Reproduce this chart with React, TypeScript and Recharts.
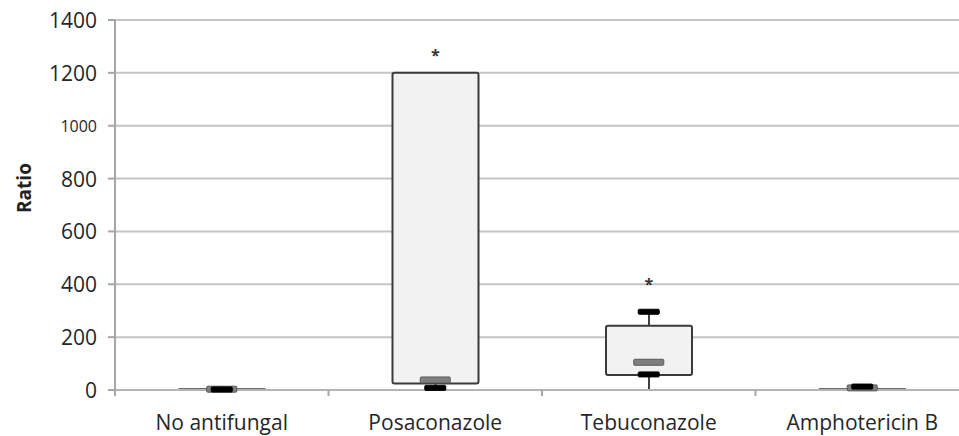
import { ComposedChart, Bar, Scatter, XAxis, YAxis, CartesianGrid } from "recharts";

const CATEGORIES = ["No antifungal", "Posaconazole", "Tebuconazole", "Amphotericin B"];
const WHISKER_LOW = [0, 0, 0, 0];
const WHISKER_HIGH = [0, 1200, 296, 0];
const Q1 = [0, 25, 57, 0];
const Q3 = [3, 1200, 243, 3];
const MEDIAN = [3, 38, 105, 8];
const CAP_LOW = [2, 8, 59, 13];
const CAP_HIGH = [null, null, 296, null];
const STAR = [null, 1282, 416, null];
const Y_TICKS = [0, 200, 400, 600, 800, 1000, 1200, 1400];

const data = CATEGORIES.map((name, i) => ({
  name,
  whisker: [WHISKER_LOW[i], WHISKER_HIGH[i]],
  box: [Q1[i], Q3[i]],
  median: MEDIAN[i],
  capLow: CAP_LOW[i],
  capHigh: CAP_HIGH[i],
  star: STAR[i],
}));

const W = 980;
const H = 436;
const MARGIN = { top: 20, right: 11, left: 0, bottom: 0 };
const Y_W = 115;
const BAND = (W - MARGIN.right - Y_W) / CATEGORIES.length;
const FONT = "'Open Sans', sans-serif";

const YTick = (props: any) => {
  const { x, y, payload } = props;
  const small = payload.value === 1000;
  return (
    <text x={x} y={y} dy={small ? 6 : 8} textAnchor="end" fontFamily={FONT} fontSize={small ? 16 : 21} fill="#262626">
      {payload.value}
    </text>
  );
};

const XTick = (props: any) => {
  const { x, y, payload } = props;
  return (
    <g>
      <line x1={x - BAND / 2} x2={x - BAND / 2} y1={y} y2={y + 6} stroke="#a6a6a6" strokeWidth={2} />
      <text x={x} y={y + 40} textAnchor="middle" fontFamily={FONT} fontSize={21} fill="#262626">
        {payload.value}
      </text>
    </g>
  );
};

const barMark = (key: string, w: number, h: number, fill: string, stroke: string) => (props: any) => {
  const { cx, cy, payload } = props;
  if (payload == null || payload[key] == null || !isFinite(cx) || !isFinite(cy)) return <g />;
  return <rect x={cx - w / 2} y={cy - h / 2} width={w} height={h} rx={1} fill={fill} stroke={stroke} strokeWidth={1} />;
};

const starMark = (props: any) => {
  const { cx, cy, payload } = props;
  if (payload == null || payload.star == null || !isFinite(cy)) return <g />;
  return (
    <text x={cx} y={cy + 10} textAnchor="middle" fontFamily={FONT} fontSize={16} fontWeight={700} fill="#333">
      *
    </text>
  );
};

export default function App() {
  return (
    <div style={{ position: "fixed", left: 0, top: 0, width: 959, height: 436, overflow: "hidden", background: "#fff" }}>
      <ComposedChart width={W} height={H} data={data} margin={MARGIN}>
        <CartesianGrid horizontal vertical={false} stroke="#c4c4c4" strokeWidth={2} />
        <XAxis
          dataKey="name"
          height={46}
          tickLine={false}
          tickSize={0}
          tickMargin={0}
          axisLine={{ stroke: "#b5b5b5", strokeWidth: 2 }}
          tick={<XTick />}
          interval={0}
        />
        <XAxis xAxisId="w" dataKey="name" hide />
        <YAxis
          width={Y_W}
          domain={[0, 1400]}
          ticks={Y_TICKS}
          interval={0}
          tickSize={7}
          tickMargin={11}
          axisLine={{ stroke: "#a6a6a6", strokeWidth: 2 }}
          tickLine={{ stroke: "#a6a6a6", strokeWidth: 2 }}
          tick={<YTick />}
          label={{
            value: "Ratio",
            angle: -90,
            position: "center",
            dx: -33,
            dy: -17,
            style: { fontFamily: FONT, fontSize: 19, fontWeight: 700, fill: "#222", textAnchor: "middle" },
          }}
        />
        <Bar xAxisId="w" dataKey="whisker" barSize={2} fill="#404040" isAnimationActive={false} />
        <Bar dataKey="box" barSize={86} fill="#f2f2f2" stroke="#3a3a3a" strokeWidth={2} radius={2} isAnimationActive={false} />
        <Scatter dataKey="median" shape={barMark("median", 30, 6, "#7f7f7f", "#5a5a5a")} isAnimationActive={false} />
        <Scatter dataKey="capLow" shape={barMark("capLow", 21, 5, "#000", "#000")} isAnimationActive={false} />
        <Scatter dataKey="capHigh" shape={barMark("capHigh", 21, 5, "#000", "#000")} isAnimationActive={false} />
        <Scatter dataKey="star" shape={starMark} isAnimationActive={false} />
      </ComposedChart>
    </div>
  );
}
